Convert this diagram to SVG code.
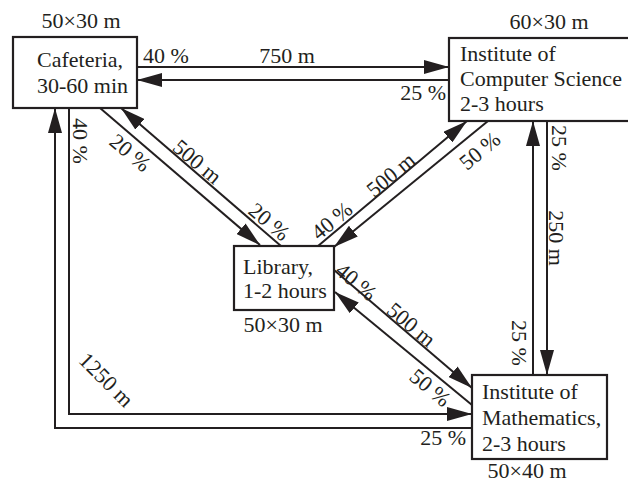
<svg xmlns="http://www.w3.org/2000/svg" width="628" height="482" viewBox="0 0 628 482">
<style>
text{font-family:"Liberation Serif","Times New Roman",serif;font-size:22px;fill:#231f20}
.box{fill:#fff;stroke:#231f20;stroke-width:2.2}
.c{fill:none;stroke:#231f20;stroke-width:2}
.m{text-anchor:middle}
.e{text-anchor:end}
</style>
<defs>
<marker id="ah" viewBox="0 0 25 14" refX="25" refY="7" markerWidth="25" markerHeight="14" markerUnits="userSpaceOnUse" orient="auto">
<path d="M0,0 L25,7 L0,14 z" fill="#231f20"/>
</marker>
</defs>
<rect width="628" height="482" fill="#fff"/>
<g id="connectors">
<path class="c" d="M137,67 L449,67" marker-end="url(#ah)"/>
<path class="c" d="M449,80 L137,80" marker-end="url(#ah)"/>
<path class="c" d="M100,108 L260,245" marker-end="url(#ah)"/>
<path class="c" d="M281,246 L121,108" marker-end="url(#ah)"/>
<path class="c" d="M318,246 L467,121" marker-end="url(#ah)"/>
<path class="c" d="M488,121 L334,247" marker-end="url(#ah)"/>
<path class="c" d="M334,270 L472,388" marker-end="url(#ah)"/>
<path class="c" d="M472,405 L335,292" marker-end="url(#ah)"/>
<path class="c" d="M547,121 L547,375" marker-end="url(#ah)"/>
<path class="c" d="M533,375 L533,121" marker-end="url(#ah)"/>
<path class="c" d="M69,108 L69,414 L472,414" marker-end="url(#ah)"/>
<path class="c" d="M472,428 L55,428 L55,108" marker-end="url(#ah)"/>
<text x="143" y="63">40 %</text>
<text class="m" x="287" y="63">750 m</text>
<text class="e" x="446" y="100">25 %</text>
<text class="m" transform="translate(559,148) rotate(90)" y="7">25 %</text>
<text class="m" transform="translate(556,238) rotate(90)" y="7">250 m</text>
<text class="m" transform="translate(519,343) rotate(90)" y="7">25 %</text>
<text class="m" transform="translate(80,141) rotate(90)" y="7">40 %</text>
<text class="m" transform="translate(106,380) rotate(45)" y="7">1250 m</text>
<text class="e" x="466" y="445">25 %</text>
<text class="m" transform="translate(130,153) rotate(40)" y="7">20 %</text>
<text class="m" transform="translate(197,162) rotate(40)" y="7">500 m</text>
<text class="m" transform="translate(269,222) rotate(40)" y="7">20 %</text>
<text class="m" transform="translate(332,221) rotate(-40)" y="7">40 %</text>
<text class="m" transform="translate(391,175) rotate(-40)" y="7">500 m</text>
<text class="m" transform="translate(480,151) rotate(-40)" y="7">50 %</text>
<text class="m" transform="translate(356,282) rotate(40)" y="7">40 %</text>
<text class="m" transform="translate(411,325) rotate(40)" y="7">500 m</text>
<text class="m" transform="translate(430,388) rotate(40)" y="7">50 %</text>
</g>
<g id="cafeteria">
<rect class="box" x="13" y="37" width="124" height="71"/>
<text x="37" y="67">Cafeteria,</text>
<text x="37" y="93">30-60 min</text>
<text class="m" x="81" y="28">50×30 m</text>
</g>
<g id="ics">
<rect class="box" x="449" y="38" width="185" height="83"/>
<text x="460" y="61">Institute of</text>
<text x="460" y="86">Computer Science</text>
<text x="460" y="111">2-3 hours</text>
<text class="m" x="549" y="29">60×30 m</text>
</g>
<g id="library">
<rect class="box" x="234" y="246" width="100" height="64"/>
<text x="243" y="274">Library,</text>
<text x="243" y="298">1-2 hours</text>
<text class="m" x="283" y="332">50×30 m</text>
</g>
<g id="math">
<rect class="box" x="472" y="375" width="135" height="84"/>
<text x="482" y="399">Institute of</text>
<text x="482" y="425">Mathematics,</text>
<text x="482" y="451">2-3 hours</text>
<text class="m" x="527" y="478">50×40 m</text>
</g>
</svg>
